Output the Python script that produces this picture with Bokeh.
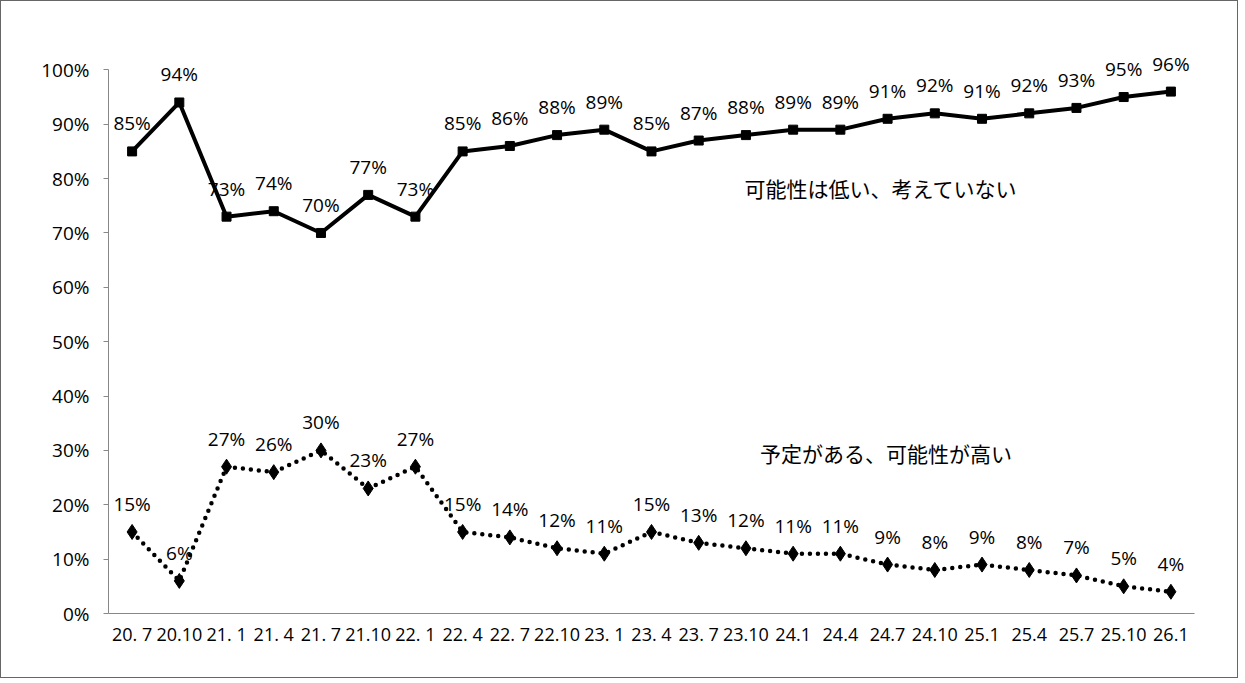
from bokeh.plotting import figure
from bokeh.models import ColumnDataSource, Label, PrintfTickFormatter, FixedTicker, Range1d, FactorRange, LabelSet
from bokeh.core.properties import value
from bokeh.embed import file_html
from bokeh.resources import INLINE

categories = ["20. 7", "20.10", "21. 1", "21. 4", "21. 7", "21.10", "22. 1", "22. 4",
              "22. 7", "22.10", "23. 1", "23. 4", "23. 7", "23.10", "24.1", "24.4",
              "24.7", "24.10", "25.1", "25.4", "25.7", "25.10", "26.1"]
low_consider = [85, 94, 73, 74, 70, 77, 73, 85, 86, 88, 89, 85, 87, 88, 89, 89,
                91, 92, 91, 92, 93, 95, 96]
high_plan = [15, 6, 27, 26, 30, 23, 27, 15, 14, 12, 11, 15, 13, 12, 11, 11,
             9, 8, 9, 8, 7, 5, 4]
series_names = ["可能性は低い、考えていない", "予定がある、可能性が高い"]

src = ColumnDataSource(dict(
    x=categories,
    up=low_consider,
    lo=high_plan,
    up_t=[f"{v}%" for v in low_consider],
    lo_t=[f"{v}%" for v in high_plan],
))

p = figure(width=1238, height=678, x_range=FactorRange(*categories, range_padding=0),
           y_range=Range1d(0, 110), output_backend="svg", toolbar_location=None,
           min_border_left=107, min_border_right=45, min_border_top=14, min_border_bottom=66)
p.styles = {"border": "1px solid #666"}
p.outline_line_color = None
p.xgrid.grid_line_color = None
p.ygrid.grid_line_color = None
p.background_fill_color = "white"

num_font = "Open Sans"
jp_font = "Noto Sans CJK JP"

p.yaxis.ticker = FixedTicker(ticks=list(range(0, 101, 10)))
p.yaxis.formatter = PrintfTickFormatter(format="%d%%")
p.yaxis.bounds = (0, 100)
for ax in (p.xaxis[0], p.yaxis[0]):
    ax.axis_line_color = "#888888"
    ax.axis_line_width = 1
    ax.major_tick_line_color = "#888888"
    ax.minor_tick_line_color = None
    ax.major_label_text_font = num_font
    ax.major_label_text_color = "black"
p.yaxis.major_label_text_font_size = "19px"
p.yaxis.major_tick_out = 5
p.yaxis.major_tick_in = 0
p.yaxis.major_label_standoff = 14
p.xaxis.major_label_text_font_size = "18px"
p.xaxis.major_tick_out = 0
p.xaxis.major_tick_in = 0
p.xaxis.major_label_standoff = 8

p.line("x", "up", source=src, line_color="black", line_width=4)
p.scatter("x", "up", source=src, marker="square", size=9, color="black")
p.line("x", "lo", source=src, line_color="black", line_width=4.5,
       line_dash="0 8", line_cap="round")
p.scatter("x", "lo", source=src, marker="diamond", size=15, color="black")

for col, tcol in (("up", "up_t"), ("lo", "lo_t")):
    p.add_layout(LabelSet(x="x", y=col, text=tcol, source=src, y_offset=28,
                          text_align="center", text_baseline="middle",
                          text_font=value(num_font), text_font_size=value("19px"),
                          text_color="black"))

p.add_layout(Label(x=13.47, y=78.3, text=series_names[0], text_font=jp_font,
                   text_font_size="21px", text_baseline="middle", text_color="black"))
p.add_layout(Label(x=13.8, y=29.5, text=series_names[1], text_font=jp_font,
                   text_font_size="21px", text_baseline="middle", text_color="black"))

open("out.html", "w").write(file_html(p, INLINE))
